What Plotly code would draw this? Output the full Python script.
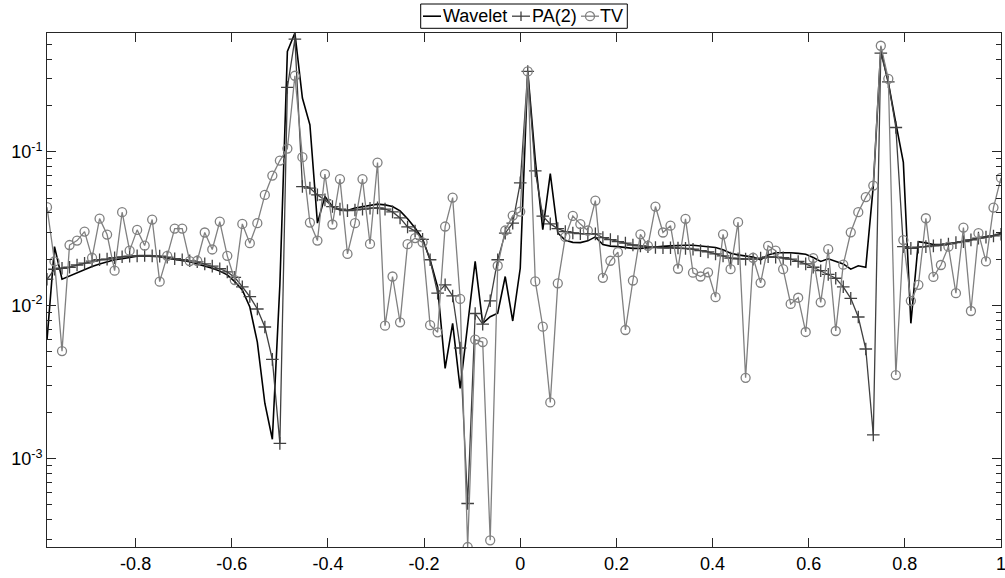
import plotly.graph_objects as go

# sampling grid (x = k/64 - 1, k = 1..128)
x = [-0.984375, -0.96875, -0.953125, -0.9375, -0.921875, -0.90625, -0.890625, -0.875,
     -0.859375, -0.84375, -0.828125, -0.8125, -0.796875, -0.78125, -0.765625, -0.75,
     -0.734375, -0.71875, -0.703125, -0.6875, -0.671875, -0.65625, -0.640625, -0.625,
     -0.609375, -0.59375, -0.578125, -0.5625, -0.546875, -0.53125, -0.515625, -0.5,
     -0.484375, -0.46875, -0.453125, -0.4375, -0.421875, -0.40625, -0.390625, -0.375,
     -0.359375, -0.34375, -0.328125, -0.3125, -0.296875, -0.28125, -0.265625, -0.25,
     -0.234375, -0.21875, -0.203125, -0.1875, -0.171875, -0.15625, -0.140625, -0.125,
     -0.109375, -0.09375, -0.078125, -0.0625, -0.046875, -0.03125, -0.015625, 0.0,
     0.015625, 0.03125, 0.046875, 0.0625, 0.078125, 0.09375, 0.109375, 0.125,
     0.140625, 0.15625, 0.171875, 0.1875, 0.203125, 0.21875, 0.234375, 0.25,
     0.265625, 0.28125, 0.296875, 0.3125, 0.328125, 0.34375, 0.359375, 0.375,
     0.390625, 0.40625, 0.421875, 0.4375, 0.453125, 0.46875, 0.484375, 0.5,
     0.515625, 0.53125, 0.546875, 0.5625, 0.578125, 0.59375, 0.609375, 0.625,
     0.640625, 0.65625, 0.671875, 0.6875, 0.703125, 0.71875, 0.734375, 0.75,
     0.765625, 0.78125, 0.796875, 0.8125, 0.828125, 0.84375, 0.859375, 0.875,
     0.890625, 0.90625, 0.921875, 0.9375, 0.953125, 0.96875, 0.984375, 1.0]

wavelet = [0.00594, 0.0241, 0.01478, 0.0155, 0.0163, 0.0172, 0.0179, 0.0186, 0.0192, 0.0198,
           0.0201, 0.0206, 0.0209, 0.0210, 0.0209, 0.0207, 0.0203, 0.0200, 0.0195, 0.0192,
           0.0186, 0.0181, 0.01743, 0.0167, 0.0158, 0.01425, 0.0126, 0.00975, 0.00576, 0.0023,
           0.00134, 0.0136, 0.451, 0.594, 0.224, 0.150, 0.0343, 0.0511, 0.0438, 0.0418,
           0.0415, 0.0431, 0.0440, 0.0451, 0.0456, 0.0451, 0.0440, 0.0412, 0.0366, 0.0319,
           0.0271, 0.0198, 0.0132, 0.00388, 0.00763, 0.00287, 0.00744, 0.0193, 0.00763, 0.00843,
           0.00887, 0.0154, 0.0079, 0.01743, 0.334, 0.0887, 0.0311, 0.0722, 0.0296, 0.0265,
           0.0257, 0.0256, 0.0263, 0.0279, 0.0249, 0.0243, 0.0241, 0.0238, 0.0235, 0.0235,
           0.0238, 0.0240, 0.0242, 0.0244, 0.0246, 0.0246, 0.0246, 0.0244, 0.0241, 0.0238,
           0.0230, 0.0218, 0.0213, 0.0210, 0.0206, 0.0198, 0.0213, 0.0220, 0.0221, 0.0220,
           0.0218, 0.0215, 0.0205, 0.0193, 0.0201, 0.0193, 0.0186, 0.0172, 0.0181, 0.0177,
           0.0600, 0.466, 0.282, 0.154, 0.0854, 0.00763, 0.0260, 0.0255, 0.0249, 0.0249,
           0.0251, 0.0256, 0.0260, 0.0267, 0.0274, 0.0279, 0.0285, 0.0294]

pa2 = [0.01478, 0.01717, 0.01743, 0.0177, 0.0183, 0.0188, 0.0194, 0.0198, 0.0200, 0.0204,
       0.0207, 0.0209, 0.0210, 0.0211, 0.0210, 0.0209, 0.0206, 0.0201, 0.0198, 0.0195,
       0.0192, 0.0186, 0.0180, 0.0173, 0.0165, 0.0152, 0.0132, 0.0114, 0.00946, 0.00722,
       0.00444, 0.00126, 0.263, 0.543, 0.0594, 0.0580, 0.0524, 0.0486, 0.0440, 0.0423,
       0.0414, 0.0418, 0.0423, 0.0429, 0.0431, 0.0423, 0.0406, 0.0371, 0.0324, 0.0305,
       0.0269, 0.0198, 0.0120, 0.0136, 0.0115, 0.00527, 0.000511, 0.00884, 0.00753, 0.0107,
       0.0198, 0.0295, 0.0343, 0.0628, 0.334, 0.0752, 0.0381, 0.0339, 0.0316, 0.0302,
       0.0296, 0.0293, 0.0292, 0.0292, 0.0276, 0.0268, 0.0260, 0.0254, 0.0247, 0.0244,
       0.0241, 0.0238, 0.0237, 0.0237, 0.0236, 0.0235, 0.0232, 0.0227, 0.0223, 0.0216,
       0.0210, 0.0203, 0.0201, 0.0200, 0.0200, 0.0203, 0.0207, 0.0206, 0.0204, 0.0200,
       0.0193, 0.0186, 0.0177, 0.0168, 0.0159, 0.0150, 0.0132, 0.0111, 0.00839, 0.00519,
       0.00143, 0.440, 0.286, 0.144, 0.0241, 0.0235, 0.0239, 0.0241, 0.0244, 0.0247,
       0.0251, 0.0256, 0.0260, 0.0267, 0.0274, 0.0278, 0.0283, 0.0290]

tv = [0.0436, 0.0193, 0.00503, 0.0247, 0.0264, 0.0302, 0.0204, 0.0367, 0.0289, 0.0168,
      0.0404, 0.0227, 0.0310, 0.0245, 0.0362, 0.01425, 0.0210, 0.0316, 0.0316, 0.0194,
      0.0195, 0.0298, 0.0231, 0.0351, 0.0210, 0.0146, 0.0339, 0.0254, 0.0343, 0.0524,
      0.0700, 0.0877, 0.105, 0.313, 0.0923, 0.0346, 0.0264, 0.0715, 0.0336, 0.0664,
      0.0216, 0.0343, 0.0664, 0.0251, 0.0851, 0.00736, 0.0154, 0.00774, 0.0250, 0.0274,
      0.0257, 0.00742, 0.00667, 0.0326, 0.0503, 0.0110, 0.000266, 0.00598, 0.00576, 0.000294,
      0.0181, 0.0307, 0.0384, 0.0408, 0.334, 0.0143, 0.00725, 0.00233, 0.0139, 0.0279,
      0.0382, 0.0338, 0.0307, 0.0481, 0.0151, 0.0195, 0.0222, 0.0069, 0.0145, 0.0290,
      0.0244, 0.0440, 0.0298, 0.0330, 0.0173, 0.0366, 0.0163, 0.0154, 0.0164, 0.0113,
      0.0290, 0.0172, 0.0348, 0.00337, 0.0204, 0.0140, 0.0244, 0.0227, 0.0172, 0.0102,
      0.0112, 0.0067, 0.0203, 0.01046, 0.0232, 0.0068, 0.0184, 0.0299, 0.0404, 0.0507,
      0.0603, 0.491, 0.299, 0.00351, 0.0266, 0.0107, 0.0136, 0.0369, 0.0153, 0.0183,
      0.0241, 0.0120, 0.0321, 0.00918, 0.0295, 0.0193, 0.0433, 0.0676]

series_names = ["Wavelet", "PA(2)", "TV"]
x_ticks = [-0.8, -0.6, -0.4, -0.2, 0, 0.2, 0.4, 0.6, 0.8, 1]
x_tick_labels = ["-0.8", "-0.6", "-0.4", "-0.2", "0", "0.2", "0.4", "0.6", "0.8", "1"]
y_ticks = [1e-3, 1e-2, 1e-1]
y_tick_labels = ["10<sup>-3</sup>", "10<sup>-2</sup>", "10<sup>-1</sup>"]
y_minor = [m * 10.0 ** e for e in range(-4, 0) for m in range(2, 10)]

FONT = "Liberation Sans, Arial, Helvetica, sans-serif"
AX = "#262626"
C_W, C_PA, C_TV = "#000000", "#404040", "#808080"

W, H = 1005, 578
ML, MR, MT, MB = 47, 4, 33, 31
PW, PH = W - ML - MR, H - MT - MB


def px(xp):
    return (xp - ML) / PW


def py(yp):
    return (H - MB - yp) / PH


fig = go.Figure()
fig.add_trace(go.Scatter(x=x, y=wavelet, name=series_names[0], mode="lines",
                         line=dict(color=C_W, width=1.6)))
fig.add_trace(go.Scatter(x=x, y=pa2, name=series_names[1], mode="lines+markers",
                         line=dict(color=C_PA, width=1.3),
                         marker=dict(symbol="cross-thin-open", size=9,
                                     line=dict(color=C_PA, width=1.3))))
fig.add_trace(go.Scatter(x=x, y=tv, name=series_names[2], mode="lines+markers",
                         line=dict(color=C_TV, width=1.3),
                         marker=dict(symbol="circle-open", size=9,
                                     line=dict(color=C_TV, width=1.3))))

# ---- compact MATLAB-style legend (box, samples, labels) ----
ly = 16.2
shapes = [
    dict(type="rect", xref="paper", yref="paper", x0=px(420.7), x1=px(627.3),
         y0=py(28.3), y1=py(4.0), line=dict(color="#000000", width=1),
         fillcolor="white", layer="above"),
    dict(type="line", xref="paper", yref="paper", x0=px(423), x1=px(441),
         y0=py(ly), y1=py(ly), line=dict(color=C_W, width=1.6)),
    dict(type="line", xref="paper", yref="paper", x0=px(512), x1=px(530),
         y0=py(ly), y1=py(ly), line=dict(color=C_PA, width=1.3)),
    dict(type="line", xref="paper", yref="paper", x0=px(521), x1=px(521),
         y0=py(ly - 4.8), y1=py(ly + 4.8), line=dict(color=C_PA, width=1.3)),
    dict(type="line", xref="paper", yref="paper", x0=px(581), x1=px(599),
         y0=py(ly), y1=py(ly), line=dict(color=C_TV, width=1.3)),
    dict(type="circle", xref="paper", yref="paper", xsizemode="pixel",
         ysizemode="pixel", xanchor=px(590), yanchor=py(ly), x0=-4.5, x1=4.5,
         y0=-4.5, y1=4.5, line=dict(color=C_TV, width=1.3), fillcolor="rgba(0,0,0,0)"),
]
annotations = []
for name, xl in zip(series_names, [441.5, 530.5, 599.0]):
    annotations.append(dict(text=name, x=px(xl), y=py(ly), xref="paper", yref="paper",
                            xanchor="left", yanchor="middle", showarrow=False,
                            borderpad=0, font=dict(family=FONT, size=18, color="#000000")))

fig.update_layout(
    width=W, height=H,
    margin=dict(l=ML, r=MR, t=MT, b=MB, autoexpand=False),
    paper_bgcolor="white", plot_bgcolor="white",
    font=dict(family=FONT, size=18, color="#000000"),
    showlegend=False,
    shapes=shapes, annotations=annotations,
    xaxis=dict(range=[-0.984375, 1.0], tickmode="array", tickvals=x_ticks,
               ticktext=x_tick_labels, ticks="inside", ticklen=9, tickwidth=1,
               tickcolor=AX, showline=True, linecolor=AX, linewidth=1,
               mirror="ticks", showgrid=False, zeroline=False,
               ticklabeloverflow="allow",
               tickfont=dict(family=FONT, size=18, color="#000000")),
    yaxis=dict(type="log", range=[-3.575, -0.2258], tickmode="array",
               tickvals=y_ticks, ticktext=y_tick_labels, ticks="inside",
               ticklen=9, tickwidth=1, tickcolor=AX, showline=True,
               linecolor=AX, linewidth=1, mirror="ticks", showgrid=False,
               zeroline=False, ticklabeloverflow="allow",
               minor=dict(tickmode="array", tickvals=y_minor, ticks="inside",
                          ticklen=5, tickwidth=1, tickcolor=AX, showgrid=False),
               tickfont=dict(family=FONT, size=18, color="#000000")),
)

fig.write_html("out.html")
